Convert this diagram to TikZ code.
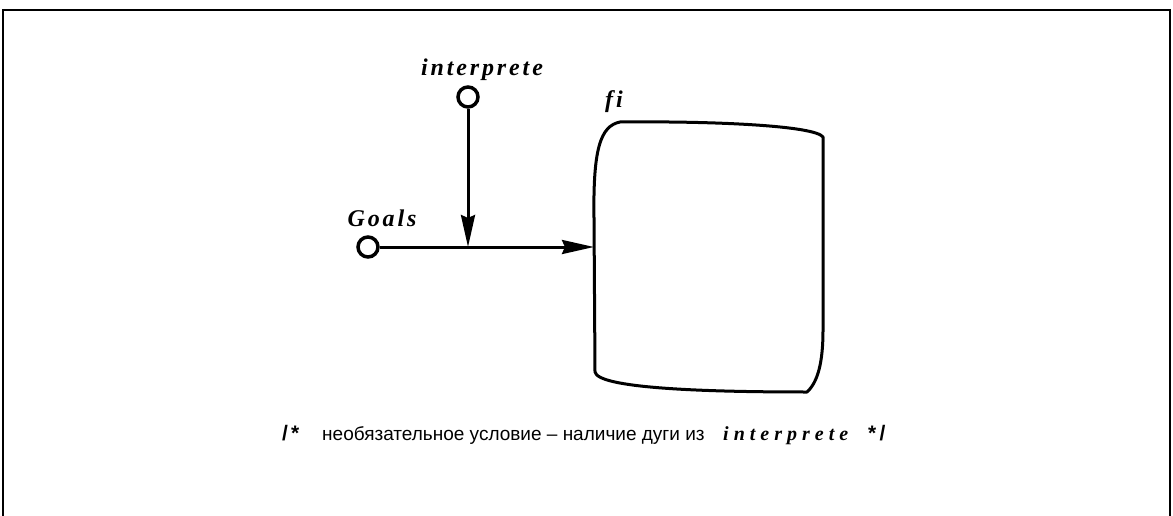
\documentclass[tikz,border=0pt]{standalone}
\usepackage{fontspec}
\setmainfont{Liberation Serif}
\newfontfamily\cyrsans{Liberation Sans}
\newfontfamily\labelserif{Liberation Serif}[LetterSpace=12]
\newfontfamily\wideserif{Liberation Serif}[LetterSpace=25]
\newfontfamily\markfont{Liberation Sans}[LetterSpace=15]
\usetikzlibrary{arrows.meta}
\begin{document}
\begin{tikzpicture}[x=1pt,y=-1pt,
  frame/.style={line width=2pt},
  port/.style={circle,draw,line width=3.5pt,minimum size=20pt,inner sep=0pt,fill=white},
  flow/.style={line width=3pt,-{Stealth[length=32pt,width=14pt,inset=3pt]}},
  blob/.style={line width=3pt,line join=round},
  lbl/.style={font=\fontsize{24}{28}\selectfont\labelserif\bfseries\itshape,inner sep=0pt,anchor=base},
  note/.style={font=\fontsize{19}{23}\selectfont\cyrsans,inner sep=0pt,anchor=base west},
  cmark/.style={font=\fontsize{21}{25}\selectfont\markfont\bfseries,inner sep=0pt,anchor=base west},
  reftext/.style={font=\fontsize{20}{24}\selectfont\wideserif\bfseries\itshape,inner sep=0pt,anchor=base west},
]
\useasboundingbox (0,0) rectangle (1173,516);
% outer frame, open at the bottom
\draw[frame] (3,517) -- (3,10) -- (1170,10) -- (1170,517);

% function block fi
\draw[blob] (594,218) .. controls (593,150) and (600,126) .. (620,122)
  .. controls (720,121) and (815,126) .. (823,137)
  -- (823,330) .. controls (823,362) and (818,382) .. (807,392)
  .. controls (700,392) and (598,388) .. (595,372)
  -- (594,218);
\coordinate (fiin) at (594,247);
\node[lbl] (filbl) at (614,108) {fi};

% input ports
\node[port] (interp) at (468,97) {};
\node[port] (goals) at (368,247) {};
\coordinate (join) at (468,247);
\node[lbl] (interplbl) at (482,76) {interprete};
\node[lbl] (goalslbl) at (382,226) {Goals};

% connectors
\draw[flow] (interp) -- (join);
\draw[flow] (goals) -- (fiin);

% comment line
\node[cmark] (open) at (282,440) {/*};
\node[note] (txt) at (322,440) {необязательное условие – наличие дуги из};
\node[reftext] (reftxt) at (723,440) {interprete};
\node[cmark] (close) at (868,440) {*/};
\end{tikzpicture}
\end{document}
